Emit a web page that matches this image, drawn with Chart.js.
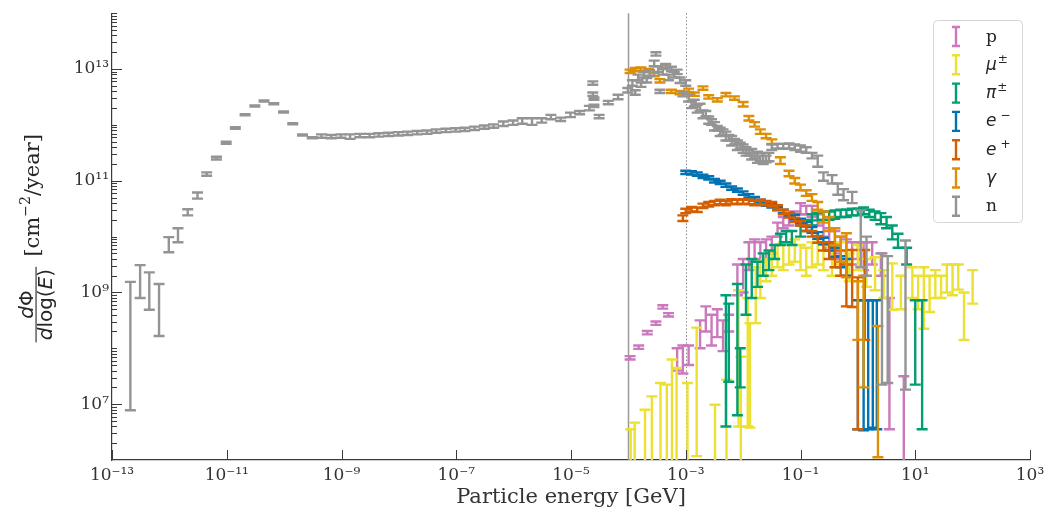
<!DOCTYPE html>
<html>
<head>
<meta charset="utf-8">
<title>Particle flux spectrum</title>
<script src="https://cdn.jsdelivr.net/npm/chart.js@4.4.1/dist/chart.umd.min.js"></script>
<style>
  html, body { margin: 0; padding: 0; background: #fff; }
  #wrap { width: 1061px; height: 512px; }
</style>
</head>
<body>
<div id="wrap"><canvas id="fluxChart" width="1061" height="512"></canvas></div>
<script>
// values, each point is [log10 E (GeV), log10 low, log10 high]
const protonPts = [
  [-3.97, 7.8, 7.86], [-3.82, 7.99, 8.05], [-3.67, 8.25, 8.31], [-3.52, 8.42, 8.48],
  [-3.4, 8.71, 8.77], [-3.3, 8.57, 8.63], [-3.15, 7.6, 8.0], [-3.05, 7.55, 8.05],
  [-2.95, 7.7, 8.05], [-2.75, 8.0, 8.5], [-2.65, 8.3, 8.75], [-2.55, 8.05, 8.6],
  [-2.45, 8.2, 8.7], [-2.35, 7.95, 8.5], [-2.25, 8.3, 8.6], [-2.1, 8.95, 9.5],
  [-2.0, 9.0, 9.6], [-1.9, 9.4, 9.9], [-1.8, 9.55, 9.95], [-1.7, 9.6, 9.9],
  [-1.6, 9.6, 9.95], [-1.5, 9.7, 10.0], [-1.4, 10.0, 10.25], [-1.3, 10.15, 10.35],
  [-1.2, 10.2, 10.4], [-1.1, 10.3, 10.45], [-1.0, 10.4, 10.6], [-0.9, 10.4, 10.55],
  [-0.8, 10.35, 10.55], [-0.7, 10.2, 10.4], [-0.6, 10.0, 10.3], [-0.5, 9.8, 10.15],
  [-0.4, 9.7, 10.1], [-0.3, 9.6, 10.0], [-0.2, 9.5, 9.95], [-0.1, 9.5, 9.9],
  [0.0, 9.6, 9.9], [0.1, 9.4, 9.9], [0.25, 9.5, 9.9], [0.4, 9.3, 9.7],
  [0.55, 6.55, 8.9], [0.8, 5.5, 7.5]
];
const muonPts = [
  [-3.96, 5.5, 6.55], [-3.89, 5.5, 6.67], [-3.71, 5.5, 6.9], [-3.59, 5.5, 7.14],
  [-3.44, 5.5, 7.38], [-3.33, 5.5, 7.35], [-3.24, 5.5, 7.8], [-3.16, 5.5, 7.65],
  [-2.97, 5.5, 7.38], [-2.81, 6.07, 8.37], [-2.49, 5.5, 6.99], [-2.29, 5.5, 7.44],
  [-2.08, 6.6, 9.04], [-2.04, 5.5, 7.85], [-1.92, 6.6, 8.9], [-1.88, 6.58, 8.45],
  [-1.78, 8.45, 9.45], [-1.7, 8.9, 9.55], [-1.6, 9.2, 9.6], [-1.5, 9.3, 9.7],
  [-1.4, 9.45, 9.85], [-1.3, 9.4, 9.9], [-1.2, 9.5, 9.9], [-1.1, 9.55, 9.95],
  [-1.0, 9.4, 9.85], [-0.9, 9.3, 9.8], [-0.8, 9.45, 9.9], [-0.7, 9.5, 9.95],
  [-0.6, 9.4, 9.85], [-0.45, 9.3, 9.8], [-0.3, 9.5, 9.9], [-0.15, 9.2, 9.7],
  [0.0, 9.4, 9.85], [0.15, 9.1, 9.6], [0.3, 9.04, 9.63], [0.45, 8.9, 9.4],
  [0.6, 8.69, 9.52], [0.75, 8.7, 9.3], [0.95, 8.9, 9.45], [1.05, 8.7, 9.3],
  [1.15, 8.35, 9.45], [1.25, 8.65, 9.3], [1.35, 8.9, 9.4], [1.45, 8.9, 9.3],
  [1.55, 9.0, 9.5], [1.65, 8.95, 9.5], [1.75, 9.05, 9.5], [1.85, 8.15, 9.0],
  [2.0, 8.8, 9.4]
];
const pionPts = [
  [-2.3, 6.6, 8.95], [-2.25, 7.4, 8.8], [-2.1, 6.8, 9.15], [-2.05, 7.3, 8.0],
  [-1.95, 8.6, 9.5], [-1.85, 8.9, 9.6], [-1.75, 9.1, 9.55], [-1.65, 9.3, 9.7],
  [-1.55, 9.4, 9.75], [-1.45, 9.6, 9.85], [-1.35, 9.85, 10.05], [-1.25, 9.9, 10.1],
  [-1.15, 9.85, 10.1], [-1.0, 10.0, 10.2], [-0.9, 10.1, 10.3], [-0.8, 10.2, 10.4],
  [-0.7, 10.29, 10.43], [-0.6, 10.3, 10.45], [-0.5, 10.3, 10.45], [-0.4, 10.32, 10.47],
  [-0.3, 10.35, 10.48], [-0.2, 10.35, 10.48], [-0.1, 10.38, 10.5], [0.0, 10.38, 10.5],
  [0.1, 10.4, 10.52], [0.2, 10.35, 10.48], [0.3, 10.3, 10.45], [0.4, 10.22, 10.42],
  [0.5, 10.15, 10.35], [0.6, 9.95, 10.2], [0.7, 9.8, 10.05], [0.85, 9.5, 9.8],
  [1.0, 7.35, 8.86], [1.12, 6.55, 8.86]
];
const electronPts = [
  [-3.0, 11.12, 11.18], [-2.9, 11.11, 11.17], [-2.8, 11.09, 11.15], [-2.7, 11.05, 11.11],
  [-2.6, 11.02, 11.08], [-2.5, 10.97, 11.03], [-2.4, 10.94, 11.0], [-2.3, 10.89, 10.95],
  [-2.2, 10.84, 10.9], [-2.1, 10.8, 10.86], [-2.0, 10.75, 10.81], [-1.9, 10.7, 10.76],
  [-1.8, 10.65, 10.71], [-1.7, 10.6, 10.66], [-1.6, 10.55, 10.61], [-1.5, 10.52, 10.58],
  [-1.4, 10.47, 10.53], [-1.3, 10.42, 10.48], [-1.2, 10.37, 10.43], [-1.1, 10.31, 10.39],
  [-1.0, 10.24, 10.32], [-0.9, 10.18, 10.26], [-0.8, 10.07, 10.17], [-0.7, 9.96, 10.08],
  [-0.6, 9.86, 9.98], [-0.5, 9.75, 9.89], [-0.4, 9.64, 9.8], [-0.3, 9.45, 9.65],
  [-0.2, 9.3, 9.6], [0.0, 6.55, 8.86], [0.1, 6.53, 8.86], [0.18, 6.55, 8.86],
  [0.26, 6.58, 8.86], [0.33, 6.55, 8.86]
];
const positronPts = [
  [-3.05, 10.28, 10.38], [-3.0, 10.42, 10.5], [-2.9, 10.45, 10.53], [-2.8, 10.44, 10.52],
  [-2.7, 10.51, 10.59], [-2.6, 10.54, 10.62], [-2.5, 10.56, 10.64], [-2.4, 10.58, 10.66],
  [-2.3, 10.56, 10.64], [-2.2, 10.59, 10.67], [-2.1, 10.58, 10.66], [-2.0, 10.59, 10.67],
  [-1.9, 10.58, 10.66], [-1.8, 10.56, 10.64], [-1.7, 10.58, 10.66], [-1.6, 10.56, 10.64],
  [-1.5, 10.54, 10.62], [-1.4, 10.48, 10.56], [-1.3, 10.4, 10.48], [-1.2, 10.34, 10.42],
  [-1.1, 10.26, 10.34], [-1.0, 10.2, 10.28], [-0.9, 10.1, 10.2], [-0.8, 10.0, 10.1],
  [-0.7, 9.89, 10.01], [-0.6, 9.75, 9.9], [-0.5, 9.6, 9.9], [-0.4, 9.45, 9.85],
  [-0.3, 9.3, 9.75], [-0.2, 8.75, 9.5], [-0.1, 8.74, 9.76], [0.0, 6.55, 9.27],
  [0.12, 8.15, 9.76]
];
const photonPts = [
  [-3.97, 12.93, 12.99], [-3.88, 12.96, 13.02], [-3.78, 12.97, 13.03], [-3.65, 12.94, 13.0],
  [-3.55, 12.87, 12.93], [-3.45, 12.76, 12.82], [-3.35, 13.02, 13.08], [-3.25, 12.57, 12.63],
  [-3.1, 12.55, 12.61], [-2.95, 12.59, 12.65], [-2.85, 12.52, 12.58], [-2.7, 12.63, 12.69],
  [-2.6, 12.47, 12.53], [-2.45, 12.42, 12.48], [-2.3, 12.51, 12.57], [-2.15, 12.45, 12.51],
  [-2.0, 12.33, 12.41], [-1.9, 12.08, 12.16], [-1.8, 11.97, 12.05], [-1.7, 11.84, 11.92],
  [-1.6, 11.76, 11.84], [-1.5, 11.66, 11.74], [-1.35, 11.3, 11.42], [-1.2, 11.08, 11.18],
  [-1.1, 10.95, 11.05], [-1.0, 10.83, 10.93], [-0.9, 10.73, 10.83], [-0.8, 10.64, 10.76],
  [-0.7, 10.48, 10.62], [-0.6, 10.25, 10.45], [-0.5, 10.1, 10.35], [-0.4, 9.85, 10.15],
  [-0.3, 9.55, 10.0], [-0.2, 9.27, 10.06], [0.0, 8.15, 9.2], [0.1, 7.3, 9.3],
  [0.35, 6.05, 8.4]
];
const neutronPts = [
  [-12.68, 6.89, 9.19], [-12.51, 8.9, 9.49], [-12.35, 8.69, 9.36], [-12.18, 8.22, 9.15],
  [-12.01, 9.72, 9.99], [-11.85, 9.9, 10.15], [-11.68, 10.38, 10.49], [-11.51, 10.68, 10.79],
  [-11.35, 11.09, 11.15], [-11.18, 11.38, 11.43], [-11.01, 11.66, 11.7], [-10.85, 11.93, 11.96],
  [-10.68, 12.17, 12.19], [-10.51, 12.33, 12.35], [-10.35, 12.42, 12.44], [-10.18, 12.37, 12.39],
  [-10.01, 12.22, 12.24], [-9.85, 12.01, 12.03], [-9.68, 11.81, 11.83], [-9.51, 11.76, 11.78],
  [-9.35, 11.77, 11.83], [-9.18, 11.76, 11.82], [-9.01, 11.77, 11.83], [-8.85, 11.75, 11.83],
  [-8.68, 11.78, 11.84], [-8.51, 11.78, 11.84], [-8.35, 11.79, 11.85], [-8.18, 11.8, 11.86],
  [-8.01, 11.81, 11.87], [-7.85, 11.82, 11.88], [-7.68, 11.83, 11.89], [-7.51, 11.84, 11.9],
  [-7.35, 11.86, 11.92], [-7.18, 11.87, 11.93], [-7.01, 11.88, 11.94], [-6.85, 11.89, 11.95],
  [-6.68, 11.91, 11.97], [-6.51, 11.93, 11.99], [-6.35, 11.95, 12.01], [-6.18, 11.98, 12.06],
  [-6.01, 12.0, 12.08], [-5.85, 12.02, 12.12], [-5.68, 12.0, 12.12], [-5.51, 12.04, 12.12],
  [-5.35, 12.1, 12.18], [-5.18, 12.07, 12.13], [-5.01, 12.14, 12.22], [-4.85, 12.19, 12.25],
  [-4.68, 12.26, 12.34], [-4.62, 12.72, 12.78], [-4.62, 12.52, 12.58], [-4.6, 12.45, 12.49],
  [-4.6, 12.32, 12.36], [-4.51, 12.12, 12.18], [-4.35, 12.37, 12.43], [-4.18, 12.46, 12.54],
  [-4.01, 12.58, 12.66], [-3.93, 12.7, 12.8], [-3.88, 12.54, 12.62], [-3.83, 12.8, 12.9],
  [-3.78, 12.68, 12.76], [-3.73, 12.85, 12.95], [-3.68, 12.76, 12.84], [-3.63, 12.88, 12.98],
  [-3.55, 13.05, 13.15], [-3.52, 13.24, 13.3], [-3.48, 12.95, 13.05], [-3.45, 12.57, 12.63],
  [-3.4, 12.9, 13.0], [-3.35, 13.01, 13.09], [-3.3, 12.8, 12.9], [-3.25, 12.96, 13.04],
  [-3.2, 12.85, 12.95], [-3.15, 12.91, 12.99], [-3.1, 12.75, 12.85], [-3.05, 12.51, 12.59],
  [-3.0, 12.7, 12.8], [-2.95, 12.42, 12.55], [-2.9, 12.3, 12.42], [-2.85, 12.33, 12.45],
  [-2.8, 12.22, 12.36], [-2.75, 12.25, 12.38], [-2.7, 12.12, 12.26], [-2.65, 12.15, 12.25],
  [-2.6, 12.02, 12.15], [-2.55, 12.0, 12.1], [-2.5, 11.9, 12.05], [-2.45, 11.9, 11.98],
  [-2.4, 11.8, 11.95], [-2.35, 11.82, 11.92], [-2.3, 11.72, 11.88], [-2.25, 11.72, 11.82],
  [-2.2, 11.63, 11.8], [-2.15, 11.65, 11.75], [-2.1, 11.55, 11.72], [-2.05, 11.58, 11.68],
  [-2.0, 11.5, 11.65], [-1.95, 11.45, 11.6], [-1.9, 11.45, 11.55], [-1.85, 11.38, 11.57],
  [-1.8, 11.4, 11.5], [-1.75, 11.32, 11.52], [-1.7, 11.35, 11.45], [-1.65, 11.3, 11.5],
  [-1.6, 11.33, 11.45], [-1.55, 11.35, 11.5], [-1.5, 11.55, 11.65], [-1.4, 11.58, 11.66],
  [-1.3, 11.57, 11.66], [-1.2, 11.58, 11.67], [-1.1, 11.55, 11.65], [-1.0, 11.52, 11.63],
  [-0.9, 11.5, 11.6], [-0.8, 11.4, 11.5], [-0.7, 11.25, 11.45], [-0.6, 11.0, 11.15],
  [-0.45, 10.95, 11.1], [-0.35, 10.75, 10.95], [-0.25, 10.65, 10.85], [-0.1, 10.6, 10.8],
  [0.05, 9.45, 10.47], [0.15, 9.3, 10.0], [0.42, 7.35, 9.7], [0.52, 7.38, 9.65],
  [0.83, 7.26, 9.93]
];

const particleNames = ['p', 'μ', 'π', 'e', 'e', 'γ', 'n'];
const particleSups = ['', '±', '±', '−', '+', '', ''];
const particleColors = ['#cc78bc', '#ece133', '#029e73', '#0173b2', '#d55e00', '#de8f05', '#949494'];
const allSeries = [protonPts, muonPts, pionPts, electronPts, positronPts, photonPts, neutronPts];

const xTickExps = [-13, -11, -9, -7, -5, -3, -1, 1, 3];
const yTickExps = [7, 9, 11, 13];
const refLineExps = [-4, -3]; // solid line, dotted line

const CAP = 5.5;
const SUP = { '-': '⁻', '0': '⁰', '1': '¹', '2': '²', '3': '³', '4': '⁴', '5': '⁵', '6': '⁶', '7': '⁷', '8': '⁸', '9': '⁹' };
function powLabel(v) {
  const e = Math.round(Math.log10(v));
  return '10' + String(e).split('').map(c => SUP[c]).join('');
}

// vertical reference lines under the data
const refLines = {
  id: 'refLines',
  beforeDatasetsDraw(chart) {
    const { ctx, chartArea: a, scales: { x } } = chart;
    ctx.save();
    refLineExps.forEach((e, i) => {
      const px = Math.round(x.getPixelForValue(10 ** e)) + 0.5;
      ctx.beginPath();
      ctx.strokeStyle = i === 0 ? '#9a9a9a' : '#8a8a8a';
      ctx.lineWidth = i === 0 ? 1.5 : 1;
      ctx.setLineDash(i === 0 ? [] : [1.5, 2]);
      ctx.moveTo(px, a.top);
      ctx.lineTo(px, a.bottom);
      ctx.stroke();
    });
    ctx.restore();
  }
};

// error bars with caps, one per data point
const errorBars = {
  id: 'errorBars',
  afterDatasetsDraw(chart) {
    const { ctx, chartArea: a, scales: { x, y } } = chart;
    ctx.save();
    ctx.beginPath();
    ctx.rect(a.left, a.top, a.right - a.left, a.bottom - a.top);
    ctx.clip();
    ctx.lineWidth = 2.4;
    chart.data.datasets.forEach(ds => {
      ctx.strokeStyle = ds.borderColor;
      ds.data.forEach(p => {
        const px = x.getPixelForValue(p.x);
        const top = y.getPixelForValue(p.hi);
        const bot = y.getPixelForValue(p.lo);
        ctx.beginPath();
        ctx.moveTo(px, top); ctx.lineTo(px, bot);
        ctx.moveTo(px - CAP, top); ctx.lineTo(px + CAP, top);
        ctx.moveTo(px - CAP, bot); ctx.lineTo(px + CAP, bot);
        ctx.stroke();
      });
    });
    ctx.restore();
  }
};

// inward ticks, legend and the y title
const decorations = {
  id: 'decorations',
  afterDraw(chart) {
    const { ctx, chartArea: a, scales: { x, y } } = chart;
    ctx.save();
    ctx.strokeStyle = '#3a3a3a';
    ctx.lineWidth = 1;
    xTickExps.forEach(e => {
      const px = Math.round(x.getPixelForValue(10 ** e)) + 0.5;
      ctx.beginPath(); ctx.moveTo(px, a.bottom); ctx.lineTo(px, a.bottom - 10); ctx.stroke();
    });
    for (let d = 6; d <= 13; d++) {
      for (let m = 1; m <= 9; m++) {
        const v = m * 10 ** d;
        const py = Math.round(y.getPixelForValue(v)) + 0.5;
        if (py < a.top - 1 || py > a.bottom) continue;
        const major = m === 1 && yTickExps.includes(d);
        ctx.beginPath(); ctx.moveTo(a.left, py); ctx.lineTo(a.left + (major ? 10 : 5), py); ctx.stroke();
      }
    }
    const topPy = Math.round(y.getPixelForValue(1e14)) + 0.5;
    ctx.beginPath(); ctx.moveTo(a.left, topPy); ctx.lineTo(a.left + 5, topPy); ctx.stroke();

    // legend
    ctx.fillStyle = 'rgba(255,255,255,0.85)';
    ctx.strokeStyle = '#d6d6d6';
    ctx.beginPath();
    ctx.roundRect(933.5, 20.5, 89, 202, 4);
    ctx.fill(); ctx.stroke();
    particleNames.forEach((name, i) => {
      const cy = 36.5 + i * 28.3;
      ctx.strokeStyle = particleColors[i];
      ctx.lineWidth = 2.4;
      ctx.beginPath();
      ctx.moveTo(956, cy - 9.5); ctx.lineTo(956, cy + 9.5);
      ctx.moveTo(952, cy - 9.5); ctx.lineTo(960, cy - 9.5);
      ctx.moveTo(952, cy + 9.5); ctx.lineTo(960, cy + 9.5);
      ctx.stroke();
      const isMath = name !== 'p' && name !== 'n';
      ctx.fillStyle = '#262626';
      ctx.textBaseline = 'alphabetic';
      ctx.font = isMath ? 'italic 17px "DejaVu Sans"' : '17px "DejaVu Serif"';
      ctx.fillText(name, 986, cy + 5);
      if (particleSups[i]) {
        const w = ctx.measureText(name).width;
        ctx.font = '12px "DejaVu Sans"';
        ctx.fillText(particleSups[i], 986 + w + (name === 'e' ? 4 : 1), cy - 2);
      }
    });

    // y title: dPhi / dlog(E) [cm^-2/year], rotated
    ctx.translate(0, (a.top + a.bottom) / 2);
    ctx.rotate(-Math.PI / 2);
    ctx.fillStyle = '#262626';
    ctx.textBaseline = 'alphabetic';
    const sans = '20px "DejaVu Sans"';
    const sansIt = 'italic 20px "DejaVu Sans"';
    const drawPieces = (pieces, startX, base) => {
      let cx = startX;
      pieces.forEach(([t, f, dy]) => {
        ctx.font = f;
        ctx.fillText(t, cx, base + (dy || 0));
        cx += ctx.measureText(t).width;
      });
      return cx - startX;
    };
    const widthOf = pieces => pieces.reduce((s, [t, f]) => { ctx.font = f; return s + ctx.measureText(t).width; }, 0);
    const num = [['d', sansIt], ['Φ', sans]];
    const den = [['d', sansIt], ['log', sans], ['(', sans], ['E', sansIt], [')', sans]];
    const fracMid = -68;
    const numW = widthOf(num), denW = widthOf(den);
    drawPieces(num, fracMid - numW / 2, 33);
    drawPieces(den, fracMid - denW / 2, 52);
    const lineW = Math.max(numW, denW) + 4;
    ctx.fillRect(fracMid - lineW / 2, 35.5, lineW, 1.1);
    const unit = [['[cm', '21px "DejaVu Serif"'], ['−2', '14px "DejaVu Serif"', -9], ['/year]', '21px "DejaVu Serif"']];
    drawPieces(unit, -20, 38.5);
    ctx.restore();
  }
};

const ctx = document.getElementById('fluxChart');

new Chart(ctx, {
  type: 'scatter',
  data: {
    datasets: allSeries.map((pts, i) => ({
      label: particleNames[i] + particleSups[i],
      data: pts.map(([e, lo, hi]) => ({ x: 10 ** e, y: 10 ** ((lo + hi) / 2), lo: 10 ** lo, hi: 10 ** hi })),
      borderColor: particleColors[i],
      backgroundColor: particleColors[i],
      pointRadius: 0,
      showLine: false
    }))
  },
  options: {
    responsive: false,
    animation: false,
    layout: { padding: { top: 13, right: 31, left: 0, bottom: 0 } },
    plugins: {
      legend: { display: false },
      tooltip: { enabled: false }
    },
    scales: {
      x: {
        type: 'logarithmic',
        min: 1e-13,
        max: 1e3,
        afterBuildTicks: s => { s.ticks = xTickExps.map(e => ({ value: 10 ** e })); },
        afterFit: s => { s.height = 52; },
        grid: { display: false, drawTicks: false },
        border: { display: true, color: '#3a3a3a', width: 1.2 },
        ticks: {
          autoSkip: false,
          maxRotation: 0,
          padding: 5,
          color: '#333',
          font: { family: 'DejaVu Serif', size: 17 },
          callback: v => powLabel(v)
        },
        title: {
          display: true,
          text: 'Particle energy [GeV]',
          color: '#333',
          font: { family: 'DejaVu Serif', size: 21 },
          padding: { top: 0, bottom: 2 }
        }
      },
      y: {
        type: 'logarithmic',
        min: 1e6,
        max: 1e14,
        afterBuildTicks: s => { s.ticks = yTickExps.map(e => ({ value: 10 ** e })); },
        afterFit: s => { s.width = 112; },
        grid: { display: false, drawTicks: false },
        border: { display: true, color: '#3a3a3a', width: 1.2 },
        ticks: {
          autoSkip: false,
          padding: 3,
          color: '#333',
          font: { family: 'DejaVu Serif', size: 17 },
          callback: v => powLabel(v)
        }
      }
    }
  },
  plugins: [refLines, errorBars, decorations]
});
</script>
</body>
</html>
